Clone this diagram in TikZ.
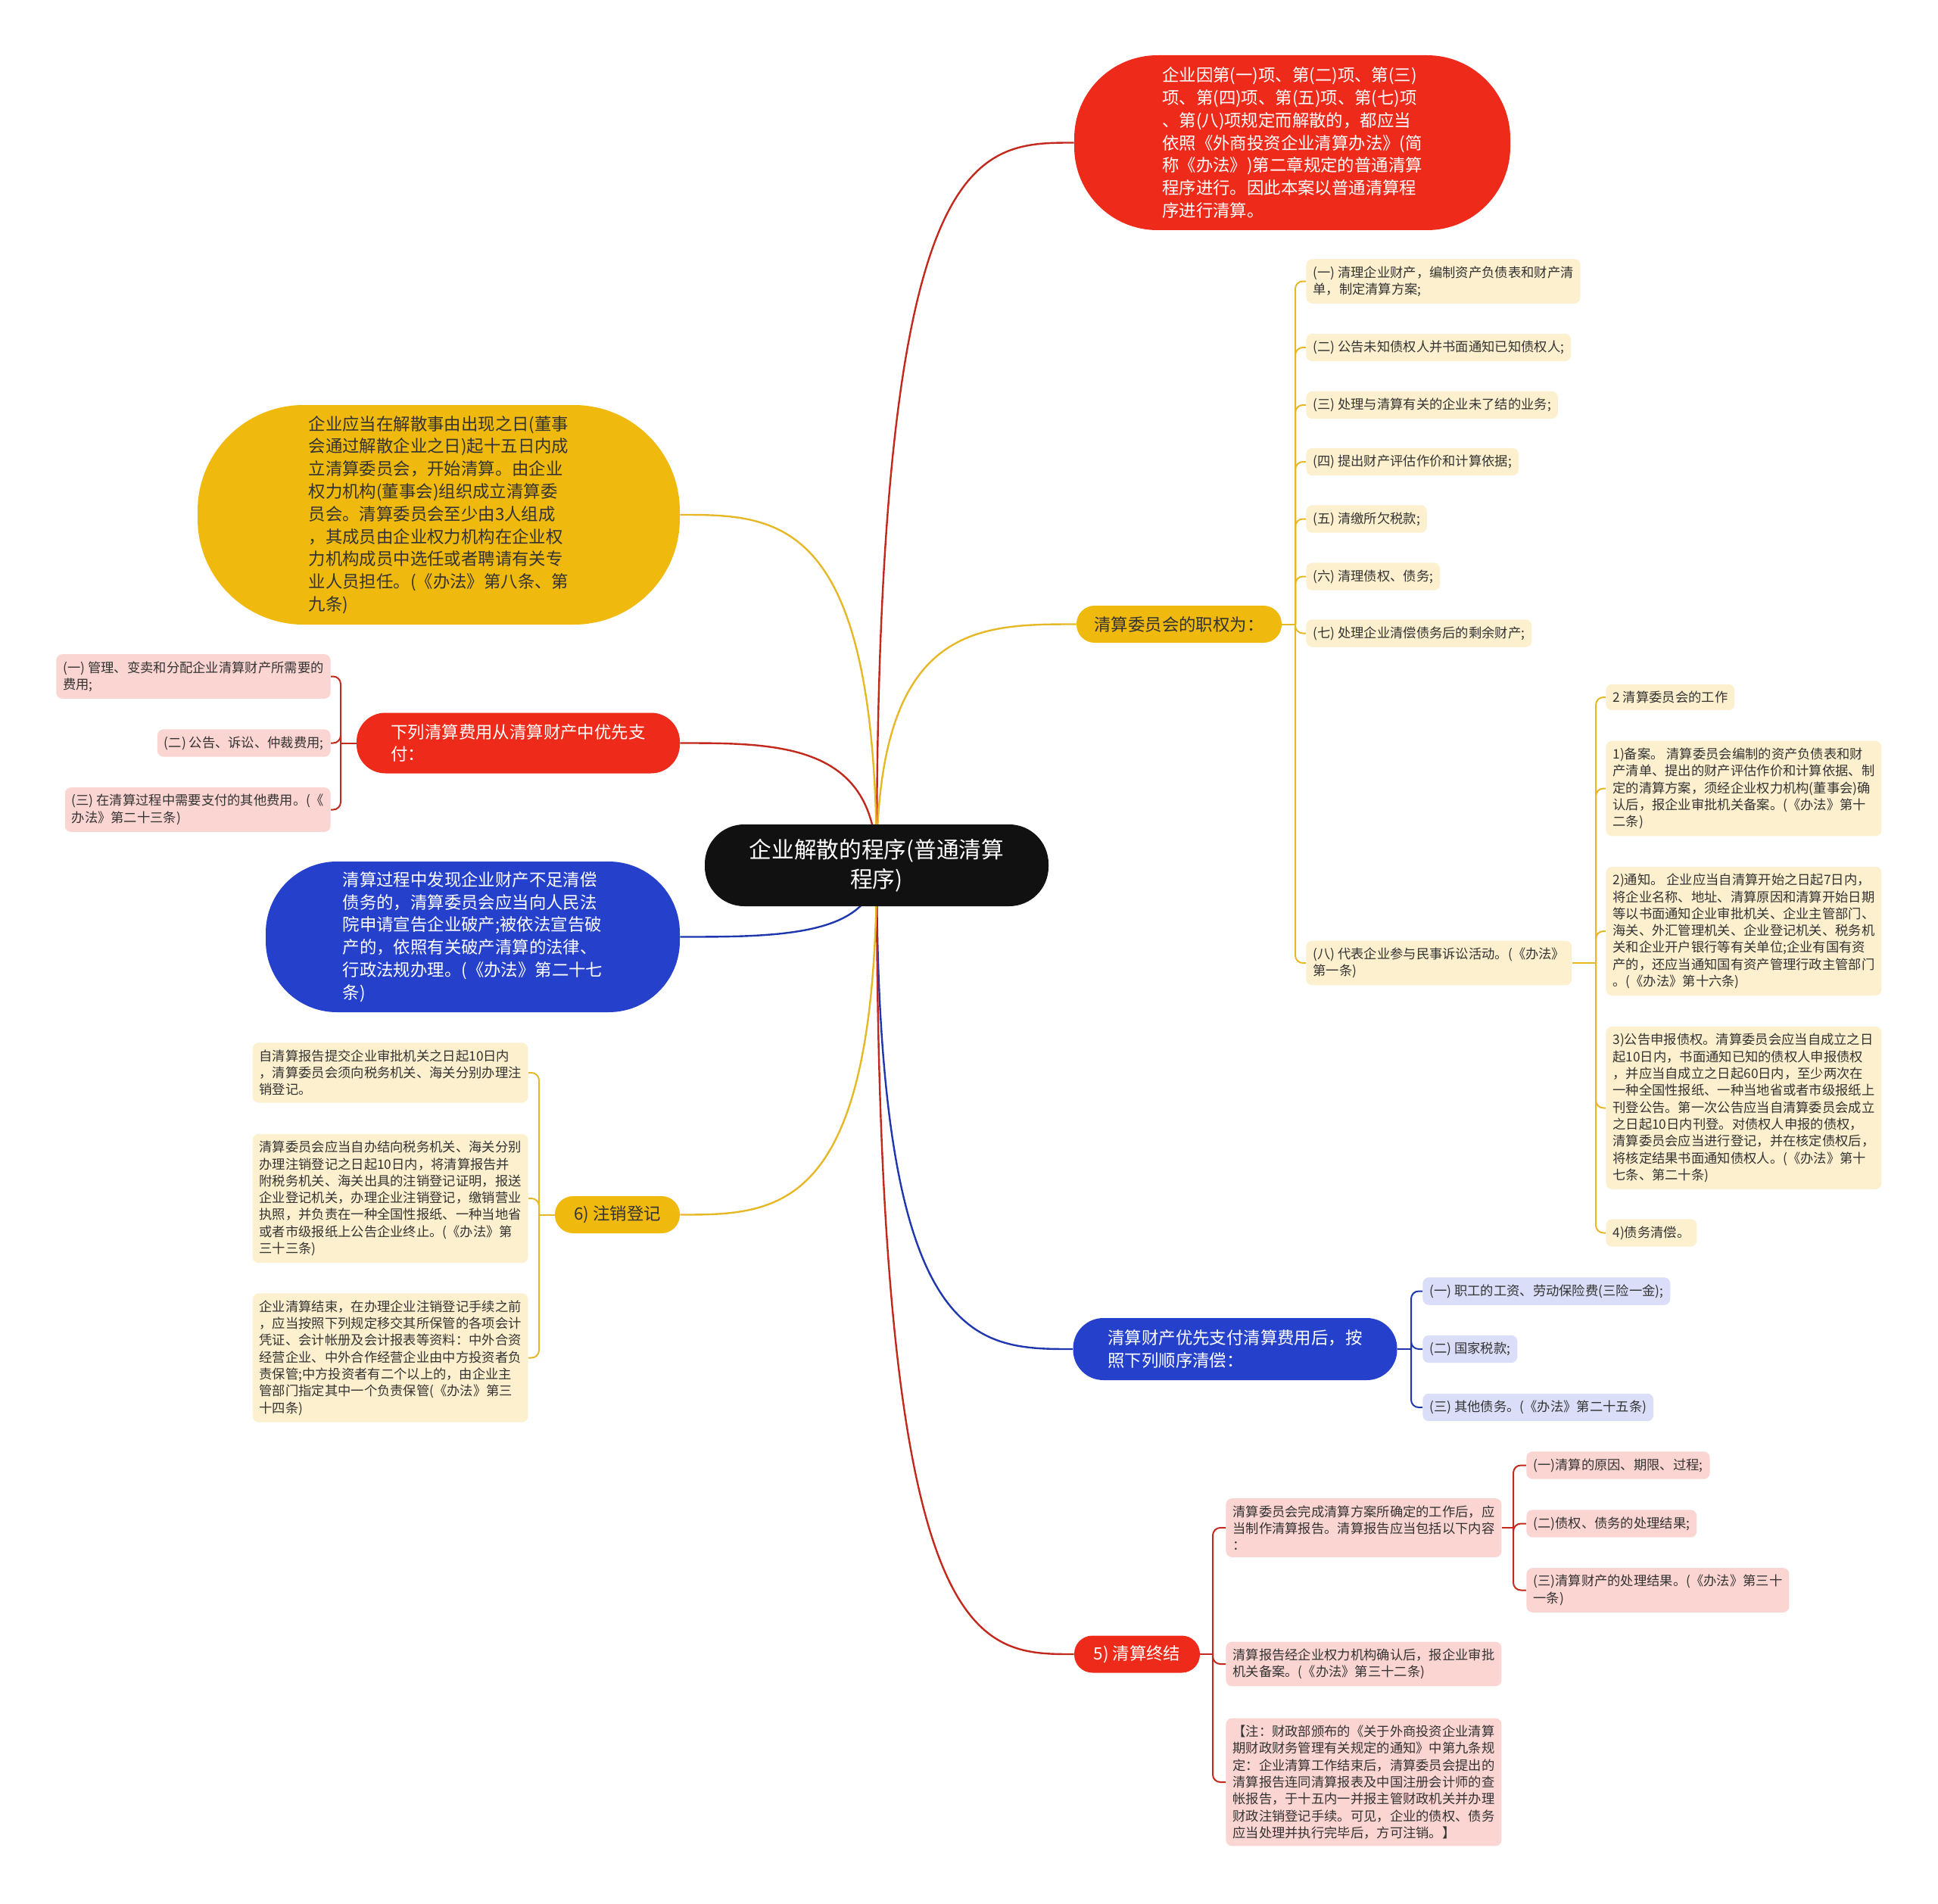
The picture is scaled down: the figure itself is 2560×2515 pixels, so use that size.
\documentclass[tikz,border=0pt]{standalone}
\usepackage{fontspec}
\setmainfont{Noto Sans CJK SC}
\usetikzlibrary{backgrounds,calc}
\definecolor{cRed}{HTML}{EE2B1B}
\definecolor{cYel}{HTML}{F0B90E}
\definecolor{cBlue}{HTML}{2541CB}
\definecolor{cBlack}{HTML}{111111}
\definecolor{cLY}{HTML}{FDF0CE}
\definecolor{cPink}{HTML}{FBD5D2}
\definecolor{cLav}{HTML}{DBDEF8}
\definecolor{lRed}{HTML}{C2291C}
\definecolor{lYel}{HTML}{E7B826}
\definecolor{lBlue}{HTML}{1E36AE}
\definecolor{tDark}{HTML}{333333}
\tikzset{
  bigf/.style={font=\fontsize{11.2}{14.9}\selectfont},
  pill/.style={bigf, align=left, inner sep=0pt},
  leaf/.style={font=\fontsize{8.65}{11.15}\selectfont, align=left, inner xsep=4.5pt, inner ysep=4.6pt, rounded corners=4pt, text=tDark},
  ly/.style={leaf, fill=cLY},
  pk/.style={leaf, fill=cPink},
  lv/.style={leaf, fill=cLav},
  mainline/.style={line width=1.2pt},
  brk/.style={line width=1pt, rounded corners=5pt},
}
\newcommand\mmcurve[3]{\draw[mainline,#1] (#2) .. controls (#2 |- #3) and ($(#2 |- #3)!0.5!(#3)$) .. (#3);}
\begin{document}
\begin{tikzpicture}[x=0.5pt,y=-0.5pt]
\useasboundingbox (0,0) rectangle (2560,2515);

% root
\node[fill=cBlack, text=white, rounded corners=26pt, minimum width=227pt, minimum height=54pt,
  font=\fontsize{14.85}{19.5}\selectfont, align=center, inner sep=0pt] (root) at (1158,1143)
  {企业解散的程序(普通清算\\程序)};

% main branches
\node[pill, fill=cRed, text=white, rounded corners=55pt, minimum width=288pt, minimum height=115.5pt] (top) at (1707,188.5)
 {企业因第(一)项、第(二)项、第(三)\\项、第(四)项、第(五)项、第(七)项\\、第(八)项规定而解散的，都应当\\依照《外商投资企业清算办法》(简\\称《办法》)第二章规定的普通清算\\程序进行。因此本案以普通清算程\\序进行清算。};

\node[pill, fill=cYel, text=tDark, rounded corners=70pt, minimum width=318.5pt, minimum height=145pt] (yel) at (579.5,680)
 {企业应当在解散事由出现之日(董事\\会通过解散企业之日)起十五日内成\\立清算委员会，开始清算。由企业\\权力机构(董事会)组织成立清算委\\员会。清算委员会至少由3人组成\\，其成员由企业权力机构在企业权\\力机构成员中选任或者聘请有关专\\业人员担任。(《办法》第八条、第\\九条)};

\node[pill, fill=cRed, text=white, rounded corners=19pt, minimum width=213.5pt, minimum height=40pt] (redL) at (684.5,981.5)
 {下列清算费用从清算财产中优先支\\付：};

\node[pill, fill=cBlue, text=white, rounded corners=47pt, minimum width=273.5pt, minimum height=99.5pt] (blueL) at (624.5,1237.5)
 {清算过程中发现企业财产不足清偿\\债务的，清算委员会应当向人民法\\院申请宣告企业破产;被依法宣告破\\产的，依照有关破产清算的法律、\\行政法规办理。(《办法》第二十七\\条)};

\node[pill, fill=cYel, text=tDark, rounded corners=12pt, minimum width=82.5pt, minimum height=24.5pt, align=center] (six) at (815.5,1604.5)
 {6) 注销登记};

\node[pill, fill=cYel, text=tDark, rounded corners=12pt, minimum width=135.5pt, minimum height=24.5pt, align=center] (zq) at (1557.5,824.5)
 {清算委员会的职权为：};

\node[pill, fill=cBlue, text=white, rounded corners=20pt, minimum width=214pt, minimum height=41pt] (blueR) at (1631.5,1782)
 {清算财产优先支付清算费用后，按\\照下列顺序清偿：};

\node[pill, fill=cRed, text=white, rounded corners=12pt, minimum width=83pt, minimum height=24.5pt, align=center] (five) at (1502,2185)
 {5) 清算终结};

% yellow list (right)
\node[ly, anchor=west] (z1) at (1725,371.5) {(一) 清理企业财产，编制资产负债表和财产清\\单，制定清算方案;};
\node[ly, anchor=west] (z2) at (1725,459) {(二) 公告未知债权人并书面通知已知债权人;};
\node[ly, anchor=west] (z3) at (1725,535) {(三) 处理与清算有关的企业未了结的业务;};
\node[ly, anchor=west] (z4) at (1725,610) {(四) 提出财产评估作价和计算依据;};
\node[ly, anchor=west] (z5) at (1725,685.5) {(五) 清缴所欠税款;};
\node[ly, anchor=west] (z6) at (1725,761.5) {(六) 清理债权、债务;};
\node[ly, anchor=west] (z7) at (1725,836.5) {(七) 处理企业清偿债务后的剩余财产;};
\node[ly, anchor=west] (z8) at (1725,1272) {(八) 代表企业参与民事诉讼活动。(《办法》\\第一条)};

% (八) children
\node[ly, anchor=west] (w1) at (2121,921) {2 清算委员会的工作};
\node[ly, anchor=west] (w2) at (2121,1041.5) {1)备案。 清算委员会编制的资产负债表和财\\产清单、提出的财产评估作价和计算依据、制\\定的清算方案，须经企业权力机构(董事会)确\\认后，报企业审批机关备案。(《办法》第十\\二条)};
\node[ly, anchor=west] (w3) at (2121,1230) {2)通知。 企业应当自清算开始之日起7日内，\\将企业名称、地址、清算原因和清算开始日期\\等以书面通知企业审批机关、企业主管部门、\\海关、外汇管理机关、企业登记机关、税务机\\关和企业开户银行等有关单位;企业有国有资\\产的，还应当通知国有资产管理行政主管部门\\。(《办法》第十六条)};
\node[ly, anchor=west] (w4) at (2121,1463.5) {3)公告申报债权。清算委员会应当自成立之日\\起10日内，书面通知已知的债权人申报债权\\，并应当自成立之日起60日内，至少两次在\\一种全国性报纸、一种当地省或者市级报纸上\\刊登公告。第一次公告应当自清算委员会成立\\之日起10日内刊登。对债权人申报的债权，\\清算委员会应当进行登记，并在核定债权后，\\将核定结果书面通知债权人。(《办法》第十\\七条、第二十条)};
\node[ly, anchor=west] (w5) at (2121,1628.5) {4)债务清偿。};

% pink list (left)
\node[pk, anchor=east] (p1) at (437,893.5) {(一) 管理、变卖和分配企业清算财产所需要的\\费用;};
\node[pk, anchor=east] (p2) at (437,981.5) {(二) 公告、诉讼、仲裁费用;};
\node[pk, anchor=east] (p3) at (437,1069.5) {(三) 在清算过程中需要支付的其他费用。(《\\办法》第二十三条)};

% 6) list
\node[ly, anchor=east] (s1) at (698,1417) {自清算报告提交企业审批机关之日起10日内\\，清算委员会须向税务机关、海关分别办理注\\销登记。};
\node[ly, anchor=east] (s2) at (698,1583) {清算委员会应当自办结向税务机关、海关分别\\办理注销登记之日起10日内，将清算报告并\\附税务机关、海关出具的注销登记证明，报送\\企业登记机关，办理企业注销登记，缴销营业\\执照，并负责在一种全国性报纸、一种当地省\\或者市级报纸上公告企业终止。(《办法》第\\三十三条)};
\node[ly, anchor=east] (s3) at (698,1793.5) {企业清算结束，在办理企业注销登记手续之前\\，应当按照下列规定移交其所保管的各项会计\\凭证、会计帐册及会计报表等资料：中外合资\\经营企业、中外合作经营企业由中方投资者负\\责保管;中方投资者有二个以上的，由企业主\\管部门指定其中一个负责保管(《办法》第三\\十四条)};

% blue list
\node[lv, anchor=west] (b1) at (1879,1705.5) {(一) 职工的工资、劳动保险费(三险一金);};
\node[lv, anchor=west] (b2) at (1879,1782) {(二) 国家税款;};
\node[lv, anchor=west] (b3) at (1879,1859) {(三) 其他债务。(《办法》第二十五条)};

% 5) list
\node[pk, anchor=west] (f1) at (1619,2018) {清算委员会完成清算方案所确定的工作后，应\\当制作清算报告。清算报告应当包括以下内容\\：};
\node[pk, anchor=west] (f2) at (1619,2198) {清算报告经企业权力机构确认后，报企业审批\\机关备案。(《办法》第三十二条)};
\node[pk, anchor=west] (f3) at (1619,2354) {【注：财政部颁布的《关于外商投资企业清算\\期财政财务管理有关规定的通知》中第九条规\\定：企业清算工作结束后，清算委员会提出的\\清算报告连同清算报表及中国注册会计师的查\\帐报告，于十五内一并报主管财政机关并办理\\财政注销登记手续。可见，企业的债权、债务\\应当处理并执行完毕后，方可注销。】};
\node[pk, anchor=west] (g1) at (2016,1935.5) {(一)清算的原因、期限、过程;};
\node[pk, anchor=west] (g2) at (2016,2012.5) {(二)债权、债务的处理结果;};
\node[pk, anchor=west] (g3) at (2016,2100.5) {(三)清算财产的处理结果。(《办法》第三十\\一条)};

% junctions
\coordinate (jZ) at (1711,824.5);
\coordinate (jW) at (2108,1272);
\coordinate (jP) at (450,981.5);
\coordinate (jS) at (712,1604.5);
\coordinate (jB) at (1864,1782);
\coordinate (jF) at (1602,2185);
\coordinate (jG) at (1999,2018);

\begin{scope}[on background layer]
\mmcurve{lRed}{root.center}{top.west}
\mmcurve{lYel}{root.center}{zq.west}
\mmcurve{lBlue}{root.center}{blueR.west}
\mmcurve{lRed}{root.center}{five.west}
\mmcurve{lYel}{root.center}{yel.east}
\mmcurve{lRed}{root.center}{redL.east}
\mmcurve{lBlue}{root.center}{blueL.east}
\mmcurve{lYel}{root.center}{six.east}

\draw[lYel, brk] (zq.east) -- (jZ);
\foreach \n in {z1,z2,z3,z4,z5,z6,z7,z8} \draw[lYel, brk] (jZ) |- (\n.west);
\draw[lYel, brk] (z8.east) -- (jW);
\foreach \n in {w1,w2,w3,w4,w5} \draw[lYel, brk] (jW) |- (\n.west);
\draw[lRed, brk] (redL.west) -- (jP);
\foreach \n in {p1,p2,p3} \draw[lRed, brk] (jP) |- (\n.east);
\draw[lYel, brk] (six.west) -- (jS);
\foreach \n in {s1,s2,s3} \draw[lYel, brk] (jS) |- (\n.east);
\draw[lBlue, brk] (blueR.east) -- (jB);
\foreach \n in {b1,b2,b3} \draw[lBlue, brk] (jB) |- (\n.west);
\draw[lRed, brk] (five.east) -- (jF);
\foreach \n in {f1,f2,f3} \draw[lRed, brk] (jF) |- (\n.west);
\draw[lRed, brk] (f1.east) -- (jG);
\foreach \n in {g1,g2,g3} \draw[lRed, brk] (jG) |- (\n.west);
\end{scope}
\end{tikzpicture}
\end{document}
